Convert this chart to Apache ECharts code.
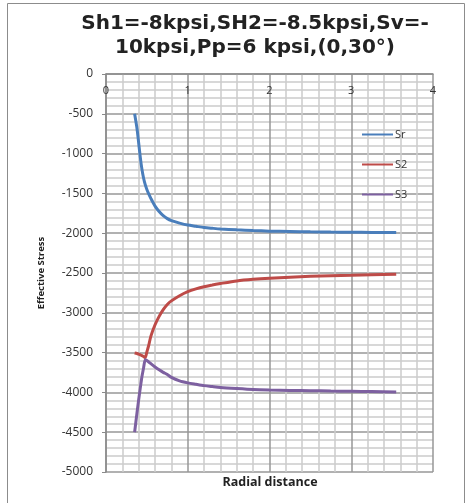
<!DOCTYPE html>
<html>
<head>
<meta charset="utf-8">
<script src="https://cdn.jsdelivr.net/npm/echarts@6/dist/echarts.min.js"></script>
<style>
  html, body { margin: 0; padding: 0; background: #fff; }
  #chart { width: 469px; height: 503px; }
</style>
</head>
<body>
<div id="chart"></div>
<script>
// Radial distance from the wellbore axis
const radial = [0.35, 0.38, 0.40, 0.42, 0.44, 0.46, 0.48, 0.50, 0.52, 0.55, 0.60, 0.65, 0.70, 0.75, 0.80,
                0.90, 1.00, 1.10, 1.20, 1.30, 1.40, 1.60, 1.80, 2.00, 2.25, 2.50, 2.75, 3.00, 3.25, 3.55];

// Effective stresses (psi)
const sr = [-500, -690, -870, -1050, -1200, -1310, -1390, -1450, -1500, -1565, -1660, -1728, -1780, -1817, -1842,
            -1873, -1898, -1913, -1928, -1938, -1947, -1958, -1967, -1974, -1979, -1983, -1986, -1988, -1990, -1992];
const s2 = [-3505, -3512, -3520, -3528, -3538, -3550, -3563, -3490, -3420, -3290, -3150, -3045, -2960, -2895, -2850,
            -2785, -2735, -2700, -2672, -2650, -2632, -2600, -2580, -2566, -2553, -2542, -2534, -2528, -2522, -2517];
const s3 = [-4500, -4250, -4090, -3940, -3800, -3690, -3590, -3600, -3615, -3640, -3680, -3716, -3748, -3775, -3812,
            -3855, -3880, -3898, -3915, -3927, -3938, -3952, -3964, -3970, -3975, -3978, -3982, -3986, -3990, -3994];

const seriesNames = ['Sr', 'S2', 'S3'];
const seriesValues = [sr, s2, s3];
const seriesColors = ['#4a7ebb', '#be4b48', '#7d60a0'];

const titleLines = ['Sh1=-8kpsi,SH2=-8.5kpsi,Sv=-', '10kpsi,Pp=6 kpsi,(0,30°)'];
const xName = 'Radial distance';
const yName = 'Effective Stress';

const chart = echarts.init(document.getElementById('chart'), null, { renderer: 'canvas' });

const labelFont = "'Open Sans', 'Liberation Sans', sans-serif";

chart.setOption({
  animation: false,
  backgroundColor: '#fff',
  title: {
    text: titleLines.join('\n'),
    left: 250,
    textAlign: 'center',
    top: 7,
    textStyle: {
      fontFamily: "'DejaVu Sans', sans-serif",
      fontWeight: 'bold',
      fontSize: 20,
      lineHeight: 24,
      color: '#222'
    }
  },
  legend: {
    orient: 'vertical',
    left: 357,
    top: 124,
    itemWidth: 31,
    itemHeight: 14,
    itemGap: 19,
    icon: 'path://M0,6 L31,6 L31,8 L0,8 Z',
    textStyle: { fontFamily: labelFont, fontSize: 11, color: '#333', padding: [0, 0, 0, -3] },
    data: seriesNames
  },
  grid: { left: 106, right: 36, top: 74, bottom: 31, containLabel: false },
  xAxis: {
    type: 'value',
    min: 0,
    max: 4,
    interval: 1,
    position: 'top',
    axisLine: { show: true, onZero: false, lineStyle: { color: '#8a8a8a', width: 1.5 } },
    axisTick: { show: false },
    minorTick: { show: false, splitNumber: 5 },
    axisLabel: { inside: true, margin: 11, fontFamily: labelFont, fontSize: 11, color: '#333' },
    splitLine: { show: true, lineStyle: { color: '#979797', width: 1.5 } },
    minorSplitLine: { show: true, lineStyle: { color: '#cbcbcb', width: 1.5 } }
  },
  yAxis: {
    type: 'value',
    min: -5000,
    max: 0,
    interval: 500,
    name: yName,
    nameLocation: 'middle',
    nameRotate: 90,
    nameGap: 60,
    nameTextStyle: { fontFamily: labelFont, fontWeight: 'bold', fontSize: 9.5, color: '#222' },
    axisLine: { show: true, lineStyle: { color: '#8a8a8a', width: 1.5 } },
    axisTick: { show: true, length: 4, lineStyle: { color: '#8a8a8a' } },
    minorTick: { show: false, splitNumber: 5 },
    axisLabel: {
      margin: 13,
      fontFamily: labelFont,
      fontSize: 12,
      color: '#333',
      formatter: (v) => String(v)
    },
    splitLine: { show: true, lineStyle: { color: '#979797', width: 1.5 } },
    minorSplitLine: { show: true, lineStyle: { color: '#cbcbcb', width: 1.5 } }
  },
  graphic: [
    {
      type: 'rect',
      shape: { x: 7.5, y: 3.5, width: 457, height: 520 },
      style: { fill: 'none', stroke: '#8c8c8c', lineWidth: 1 },
      silent: true
    },
    {
      type: 'text',
      x: 270,
      y: 482,
      style: {
        text: xName,
        align: 'center',
        verticalAlign: 'middle',
        fontFamily: labelFont,
        fontWeight: 'bold',
        fontSize: 12.5,
        fill: '#222'
      }
    }
  ],
  series: seriesNames.map((name, k) => ({
    name,
    type: 'line',
    showSymbol: false,
    symbol: 'none',
    smooth: 0.25,
    lineStyle: { width: 3, color: seriesColors[k] },
    itemStyle: { color: seriesColors[k] },
    data: radial.map((r, i) => [r, seriesValues[k][i]])
  }))
});
</script>
</body>
</html>
